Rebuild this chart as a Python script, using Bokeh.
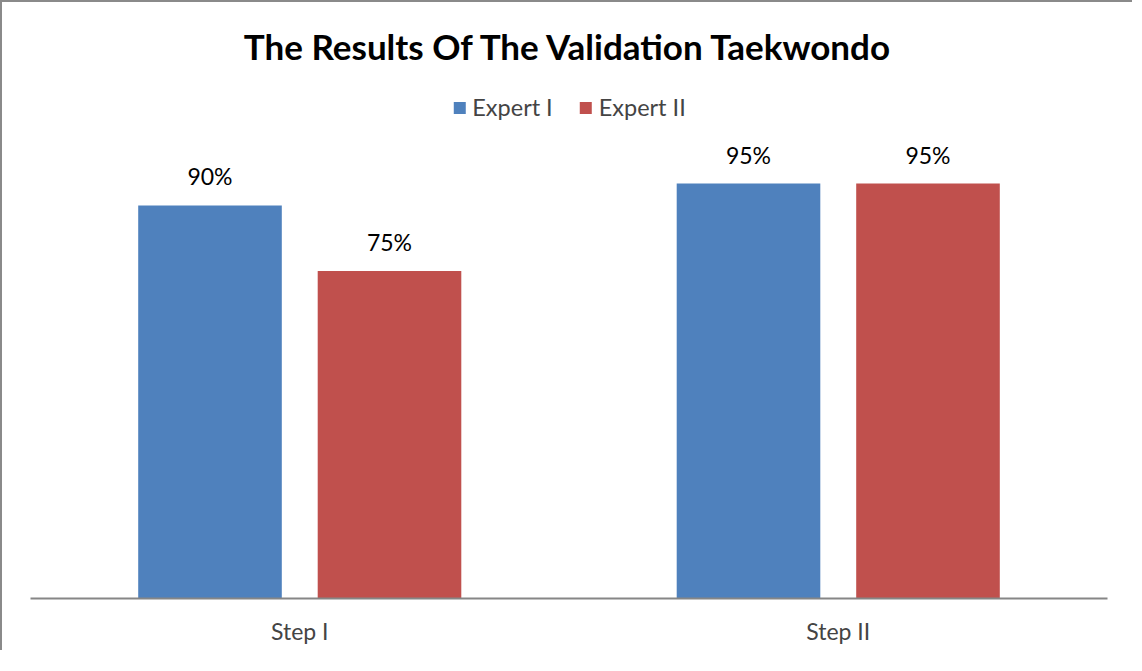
from bokeh.plotting import figure
from bokeh.models import ColumnDataSource, FactorRange, Legend, LegendItem
from bokeh.transform import dodge
from bokeh.core.properties import value
from bokeh.embed import file_html
from bokeh.resources import INLINE

steps = ["Step I", "Step II"]
expert1 = [90, 95]
expert2 = [75, 95]
series_names = ["Expert I", "Expert II"]
colors = ["#4F81BD", "#C0504D"]

src = ColumnDataSource(dict(
    steps=steps, e1=expert1, e2=expert2,
    l1=[f"{v}%" for v in expert1], l2=[f"{v}%" for v in expert2],
))

FONT = "Lato"
p = figure(x_range=FactorRange(*steps), y_range=(0, 117.0),
           width=1132, height=650, output_backend="svg", toolbar_location=None,
           title="The Results Of The Validation Taekwondo",
           min_border_left=28, min_border_right=27, min_border_bottom=54, min_border_top=0)
p.styles = {"border-left": "2px solid #8a8a8a", "border-top": "2px solid #8a8a8a"}
p.outline_line_color = None
p.grid.visible = False
p.yaxis.visible = False

p.title.align = "center"
p.title.standoff = 41
p.title.text_font = FONT
p.title.text_font_size = "35px"
p.title.text_font_style = "bold"
p.title.text_color = "black"

bw = 1 / 3.75
off = bw / 2 + bw * 0.125
r1 = p.vbar(x=dodge("steps", -off, range=p.x_range), top="e1", width=bw, source=src,
            fill_color=colors[0], line_color=None)
r2 = p.vbar(x=dodge("steps", off, range=p.x_range), top="e2", width=bw, source=src,
            fill_color=colors[1], line_color=None)
p.text(x=dodge("steps", -off, range=p.x_range), y="e1", text="l1", source=src,
       text_align="center", text_baseline="alphabetic", y_offset=-29,
       text_font=value(FONT), text_font_size="23px", text_color="black")
p.text(x=dodge("steps", off, range=p.x_range), y="e2", text="l2", source=src,
       text_align="center", text_baseline="alphabetic", y_offset=-29,
       text_font=value(FONT), text_font_size="23px", text_color="black")

legend = Legend(items=[LegendItem(label=series_names[0], renderers=[r1]),
                       LegendItem(label=series_names[1], renderers=[r2])],
                orientation="horizontal", location="top_center",
                label_text_font=FONT, label_text_font_size="23.5px",
                glyph_width=15, glyph_height=15, spacing=25, label_standoff=6,
                padding=0, margin=6,
                border_line_color=None, background_fill_alpha=0)
p.add_layout(legend)

ax = p.xaxis[0]
ax.axis_line_color = "#868686"
ax.axis_line_width = 2
ax.major_tick_line_color = None
ax.minor_tick_line_color = None
ax.major_label_text_font = FONT
ax.major_label_text_font_size = "23px"
ax.major_label_standoff = 12

open("out.html", "w").write(file_html(p, INLINE))
